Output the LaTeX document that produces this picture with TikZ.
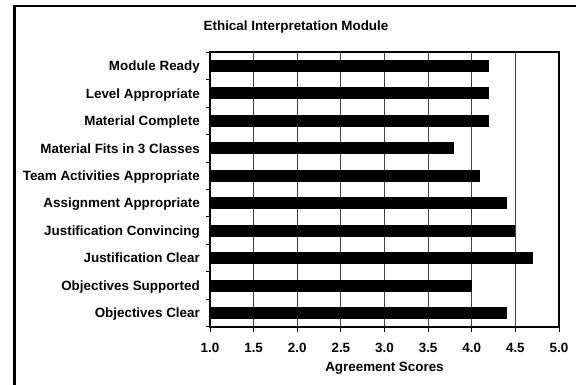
\documentclass[tikz,border=0pt]{standalone}
\usepackage{fontspec}
\setmainfont{Liberation Sans}

\begin{document}
\begin{tikzpicture}[
    x=1pt, y=-1pt,
    txt/.style={inner sep=0pt, font=\bfseries\fontsize{13.4}{15}\selectfont},
    catlabel/.style={txt, anchor=base east},
    ticklabel/.style={txt, anchor=base},
    scorebar/.style={
        rectangle, fill=black, draw=none,
        inner sep=0pt, outer sep=0pt,
        minimum height=12pt,
        anchor=west
    },
    gridline/.style={draw=black!75, line width=0.8pt},
    axisframe/.style={draw=black, line width=1.8pt}
]

\useasboundingbox (0,0) rectangle (576,385);
\clip (0,0) rectangle (576,385);

% outer frame, runs off the right and bottom edges
\draw[line width=2.2pt] (14.5,6.2) rectangle (590,400);

\node[txt, anchor=base] (title) at (296,30.7) {Ethical Interpretation Module};

% grid and ticks along the score axis
\foreach \s [count=\j] in {1.0,1.5,2.0,2.5,3.0,3.5,4.0,4.5,5.0} {
    \pgfmathsetmacro\xx{210+(\s-1)*87.25}
    \draw[gridline] (\xx,52.3) -- (\xx,326.7);
    \draw[line width=1pt] (\xx,326.7) -- (\xx,331.5);
    \node[ticklabel] (tick\j) at (\xx,352.4) {\s};
}

% category ticks
\foreach \k in {0,...,10} {
    \pgfmathsetmacro\yy{52.3+\k*27.44}
    \draw[line width=1pt] (205.5,\yy) -- (210,\yy);
}

% bars and their labels
\foreach \lab/\val [count=\i] in {
    Module Ready/4.2,
    Level Appropriate/4.2,
    Material Complete/4.2,
    Material Fits in 3 Classes/3.8,
    Team Activities Appropriate/4.1,
    Assignment Appropriate/4.4,
    Justification Convincing/4.5,
    Justification Clear/4.7,
    Objectives Supported\hspace{3pt}/4.0,
    Objectives Clear/4.4} {
    \pgfmathsetmacro\yy{52.3+(\i-0.5)*27.44}
    \pgfmathsetmacro\ww{(\val-1)*87.25}
    \node[scorebar, minimum width=\ww pt] (bar\i) at (210,\yy) {};
    \node[catlabel] (cat\i) at (200,\yy+4.7) {\lab};
}

\draw[axisframe] (210,52.3) rectangle (559,326.7);

\node[txt, anchor=base] (xlabel) at (384.5,371.4) {Agreement Scores};

\end{tikzpicture}
\end{document}
